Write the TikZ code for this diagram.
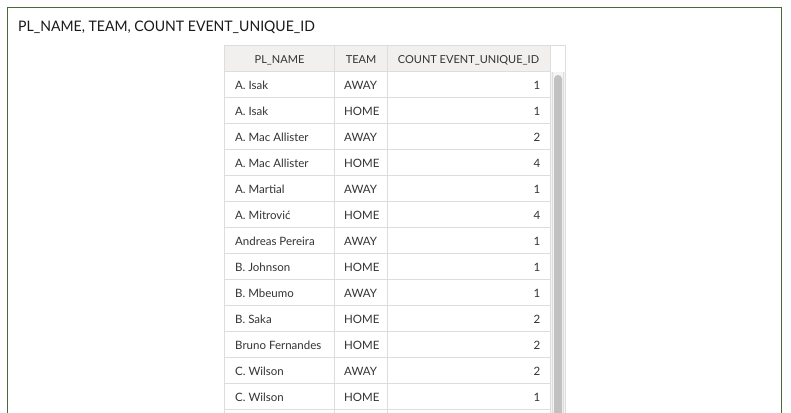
\documentclass[tikz,border=0pt]{standalone}
\usepackage{fontspec}
\setmainfont{Lato}
\newfontfamily\titlefont[FakeStretch=0.97]{Lato}
\definecolor{frame}{HTML}{4A6A38}
\definecolor{grid}{HTML}{DDDDDD}
\definecolor{hdr}{HTML}{F1F0EF}
\definecolor{txt}{HTML}{333333}
\definecolor{thumb}{HTML}{C1C1C1}
\definecolor{track}{HTML}{F4F4F4}
\tikzset{
  cell/.style={anchor=base west, inner sep=0pt, text=txt, font=\fontsize{11.5}{13}\selectfont},
  num/.style={anchor=base east, inner sep=0pt, text=txt, font=\fontsize{11.5}{13}\selectfont},
  head/.style={anchor=base, inner sep=0pt, text=txt, font=\fontsize{11}{13}\selectfont},
  gridline/.style={draw=grid, line width=1pt},
}
\begin{document}
\begin{tikzpicture}[x=1pt,y=-1pt]
\useasboundingbox (0,0) rectangle (791,412);
\fill[white] (0,0) rectangle (791,412);
% outer frame
\draw[frame, line width=1.2pt] (7.6,430) -- (7.6,7.6) -- (781.6,7.6) -- (781.6,430);
% title
\node[anchor=base west, inner sep=0pt, text=black!90, font=\titlefont\fontsize{14.5}{17}\selectfont] (title) at (18,32) {PL\_NAME, TEAM, COUNT EVENT\_UNIQUE\_ID};
% header background
\fill[hdr] (225,45) rectangle (550,71);
% scrollbar column
\fill[track] (551,72) rectangle (565,420);
\draw[grid, line width=0.8pt] (552.5,72) -- (552.5,420);
\draw[grid, line width=0.8pt] (563.5,72) -- (563.5,420);
\fill[thumb, rounded corners=4pt] (554,75) rectangle (562,430);
% grid lines
\draw[gridline] (225,45.5) -- (565.5,45.5);
\foreach \k in {0,...,13} {
  \draw[gridline] (225,71.5+26*\k) -- (550,71.5+26*\k);
}
\foreach \xx in {224.5,334.5,387.5,550.5,565.5} {
  \draw[gridline] (\xx,45) -- (\xx,420);
}
% header texts
\node[head] (h1) at (279.5,63.3) {PL\_NAME};
\node[head] (h2) at (361,63.3) {TEAM};
\node[head] (h3) at (468.5,63.3) {COUNT EVENT\_UNIQUE\_ID};
% rows
\foreach \name/\team/\cnt [count=\i from 0] in {
  A. Isak/AWAY/1,
  A. Isak/HOME/1,
  A. Mac Allister/AWAY/2,
  A. Mac Allister/HOME/4,
  A. Martial/AWAY/1,
  A. Mitrović/HOME/4,
  Andreas Pereira/AWAY/1,
  B. Johnson/HOME/1,
  B. Mbeumo/AWAY/1,
  B. Saka/HOME/2,
  Bruno Fernandes/HOME/2,
  C. Wilson/AWAY/2,
  C. Wilson/HOME/1} {
  \node[cell] (n\i) at (235,89.4+26*\i) {\name};
  \node[cell] (t\i) at (344,89.4+26*\i) {\team};
  \node[num] (c\i) at (540.5,89.4+26*\i) {\cnt};
}
\end{tikzpicture}
\end{document}
